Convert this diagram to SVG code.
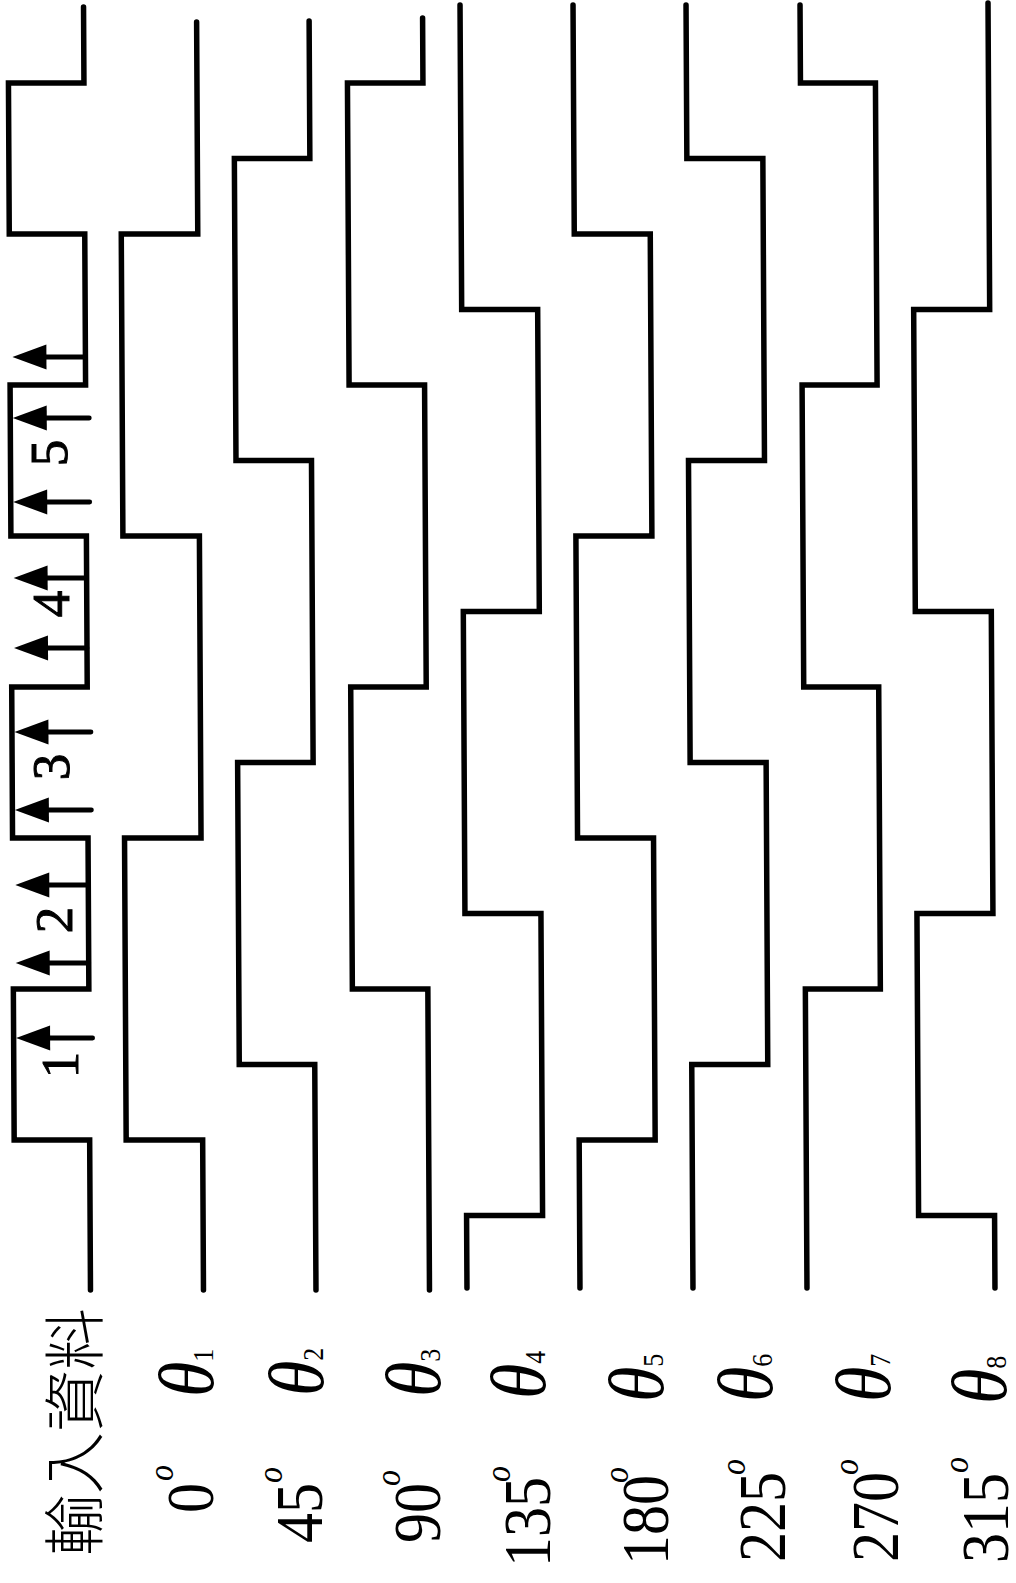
<svg xmlns="http://www.w3.org/2000/svg" width="1016" height="1583" viewBox="0 0 1016 1583">
<style>
.w{fill:none;stroke:#000;stroke-width:5.5;stroke-linejoin:miter;stroke-linecap:round}
.sh{stroke:#000;stroke-width:4.8;stroke-linecap:round}
.hd{fill:#000}
.num{font-family:"Liberation Serif",serif;font-size:53px;fill:#000;stroke:#000;stroke-width:1}
.ang{font-family:"Liberation Serif",serif;font-size:60px;fill:#000}
.sup{font-family:"Liberation Serif",serif;font-style:italic;font-size:32px;fill:#000}
.th{font-family:"Liberation Serif",serif;font-style:italic;font-size:72px;fill:#000}
.sub{font-family:"Liberation Serif",serif;font-size:26px;font-style:normal}
.cjk{font-family:"Noto Sans CJK TC","Noto Sans CJK SC",sans-serif;font-size:62px;font-weight:300;fill:#000}
</style>
<defs>
<path id="ah" d="M0,0 L34,-12.5 L34,12.5 Z"/>
</defs>
<rect width="1016" height="1583" fill="#fff"/>
<g id="waveforms" transform="skewX(0.31)">
  <g id="input-data">
    <path class="w" d="M83.5,7 V83 H8 V234 H83.5 V385 H8 V536 H83.5 V687 H8 V838 H83.5 V989 H8 V1140 H83.5 V1290"/>
  </g>
  <g id="wave-theta1"><path class="w" d="M196.5,22 V234 H120 V536 H196.5 V838 H120 V1140 H196.5 V1290"/></g>
  <g id="wave-theta2"><path class="w" d="M309,21 V158.5 H233.5 V460.5 H309 V762.5 H233.5 V1064.5 H309 V1290"/></g>
  <g id="wave-theta3"><path class="w" d="M422.5,18 V83 H347 V385 H422.5 V687 H347 V989 H422.5 V1290"/></g>
  <g id="wave-theta4"><path class="w" d="M460,5 V309.5 H536 V611.5 H460 V913.5 H536 V1215.5 H460 V1288"/></g>
  <g id="wave-theta5"><path class="w" d="M573,5 V234 H649 V536 H573 V838 H649 V1140 H573 V1288"/></g>
  <g id="wave-theta6"><path class="w" d="M686,5 V158.5 H762 V460.5 H686 V762.5 H762 V1064.5 H686 V1288"/></g>
  <g id="wave-theta7"><path class="w" d="M800,5 V83 H875 V385 H800 V687 H875 V989 H800 V1288"/></g>
  <g id="wave-theta8"><path class="w" d="M988,3 V309.5 H912 V611.5 H988 V913.5 H912 V1215.5 H988 V1288"/></g>
  <g id="connectors">
    <line class="sh" x1="42" y1="357" x2="83.5" y2="357"/><use href="#ah" class="hd" x="10.5" y="357"/>
    <line class="sh" x1="42" y1="418" x2="87" y2="418"/><use href="#ah" class="hd" x="10.5" y="418"/>
    <line class="sh" x1="42" y1="502" x2="87" y2="502"/><use href="#ah" class="hd" x="10.5" y="502"/>
    <line class="sh" x1="42" y1="578" x2="83.5" y2="578"/><use href="#ah" class="hd" x="10.5" y="578"/>
    <line class="sh" x1="42" y1="648" x2="83.5" y2="648"/><use href="#ah" class="hd" x="10.5" y="648"/>
    <line class="sh" x1="42" y1="732" x2="87" y2="732"/><use href="#ah" class="hd" x="10.5" y="732"/>
    <line class="sh" x1="42" y1="810" x2="87" y2="810"/><use href="#ah" class="hd" x="10.5" y="810"/>
    <line class="sh" x1="42" y1="885" x2="83.5" y2="885"/><use href="#ah" class="hd" x="10.5" y="885"/>
    <line class="sh" x1="42" y1="963" x2="83.5" y2="963"/><use href="#ah" class="hd" x="10.5" y="963"/>
    <line class="sh" x1="42" y1="1038" x2="87" y2="1038"/><use href="#ah" class="hd" x="10.5" y="1038"/>
  </g>
</g>
<g id="step-numbers">
  <text class="num" text-anchor="middle" transform="translate(67,453) rotate(-90)">5</text>
  <text class="num" text-anchor="middle" transform="translate(69,604) rotate(-90)">4</text>
  <text class="num" text-anchor="middle" transform="translate(69,767) rotate(-90)">3</text>
  <text class="num" text-anchor="middle" transform="translate(72,920) rotate(-90)">2</text>
  <text class="num" text-anchor="middle" transform="translate(78,1065) rotate(-90)">1</text>
</g>
<g id="label-input">
  <text class="cjk" transform="translate(98,1556) rotate(-90)">輸入資料</text>
</g>
<g id="theta-labels">
  <text class="th" transform="translate(213,1397) rotate(-90) scale(1,1.1)">θ<tspan class="sub">1</tspan></text>
  <text class="th" transform="translate(323,1396) rotate(-90) scale(1,1.1)">θ<tspan class="sub">2</tspan></text>
  <text class="th" transform="translate(440,1397) rotate(-90) scale(1,1.1)">θ<tspan class="sub">3</tspan></text>
  <text class="th" transform="translate(545,1399) rotate(-90) scale(1,1.1)">θ<tspan class="sub">4</tspan></text>
  <text class="th" transform="translate(663,1402) rotate(-90) scale(1,1.1)">θ<tspan class="sub">5</tspan></text>
  <text class="th" transform="translate(772,1402) rotate(-90) scale(1,1.1)">θ<tspan class="sub">6</tspan></text>
  <text class="th" transform="translate(890,1402) rotate(-90) scale(1,1.1)">θ<tspan class="sub">7</tspan></text>
  <text class="th" transform="translate(1006,1404) rotate(-90) scale(1,1.1)">θ<tspan class="sub">8</tspan></text>
</g>
<g id="angle-labels">
  <g transform="translate(213,1483) rotate(-90) scale(1,1.12)"><text class="ang" text-anchor="end">0</text><text class="sup" x="2" y="-36">o</text></g>
  <g transform="translate(322,1483) rotate(-90) scale(1,1.12)"><text class="ang" text-anchor="end">45</text><text class="sup" x="0" y="-36">o</text></g>
  <g transform="translate(440,1483) rotate(-90) scale(1,1.12)"><text class="ang" text-anchor="end">90</text><text class="sup" x="-3" y="-36">o</text></g>
  <g transform="translate(550,1477) rotate(-90) scale(1,1.12)"><text class="ang" text-anchor="end">135</text><text class="sup" x="-5" y="-36">o</text></g>
  <g transform="translate(668,1475) rotate(-90) scale(1,1.12)"><text class="ang" text-anchor="end">180</text><text class="sup" x="-8" y="-36">o</text></g>
  <g transform="translate(785,1472) rotate(-90) scale(1,1.12)"><text class="ang" text-anchor="end">225</text><text class="sup" x="-3" y="-36">o</text></g>
  <g transform="translate(898,1472) rotate(-90) scale(1,1.12)"><text class="ang" text-anchor="end">270</text><text class="sup" x="-3" y="-36">o</text></g>
  <g transform="translate(1008,1473) rotate(-90) scale(1,1.12)"><text class="ang" text-anchor="end">315</text><text class="sup" x="0" y="-36">o</text></g>
</g>
</svg>
